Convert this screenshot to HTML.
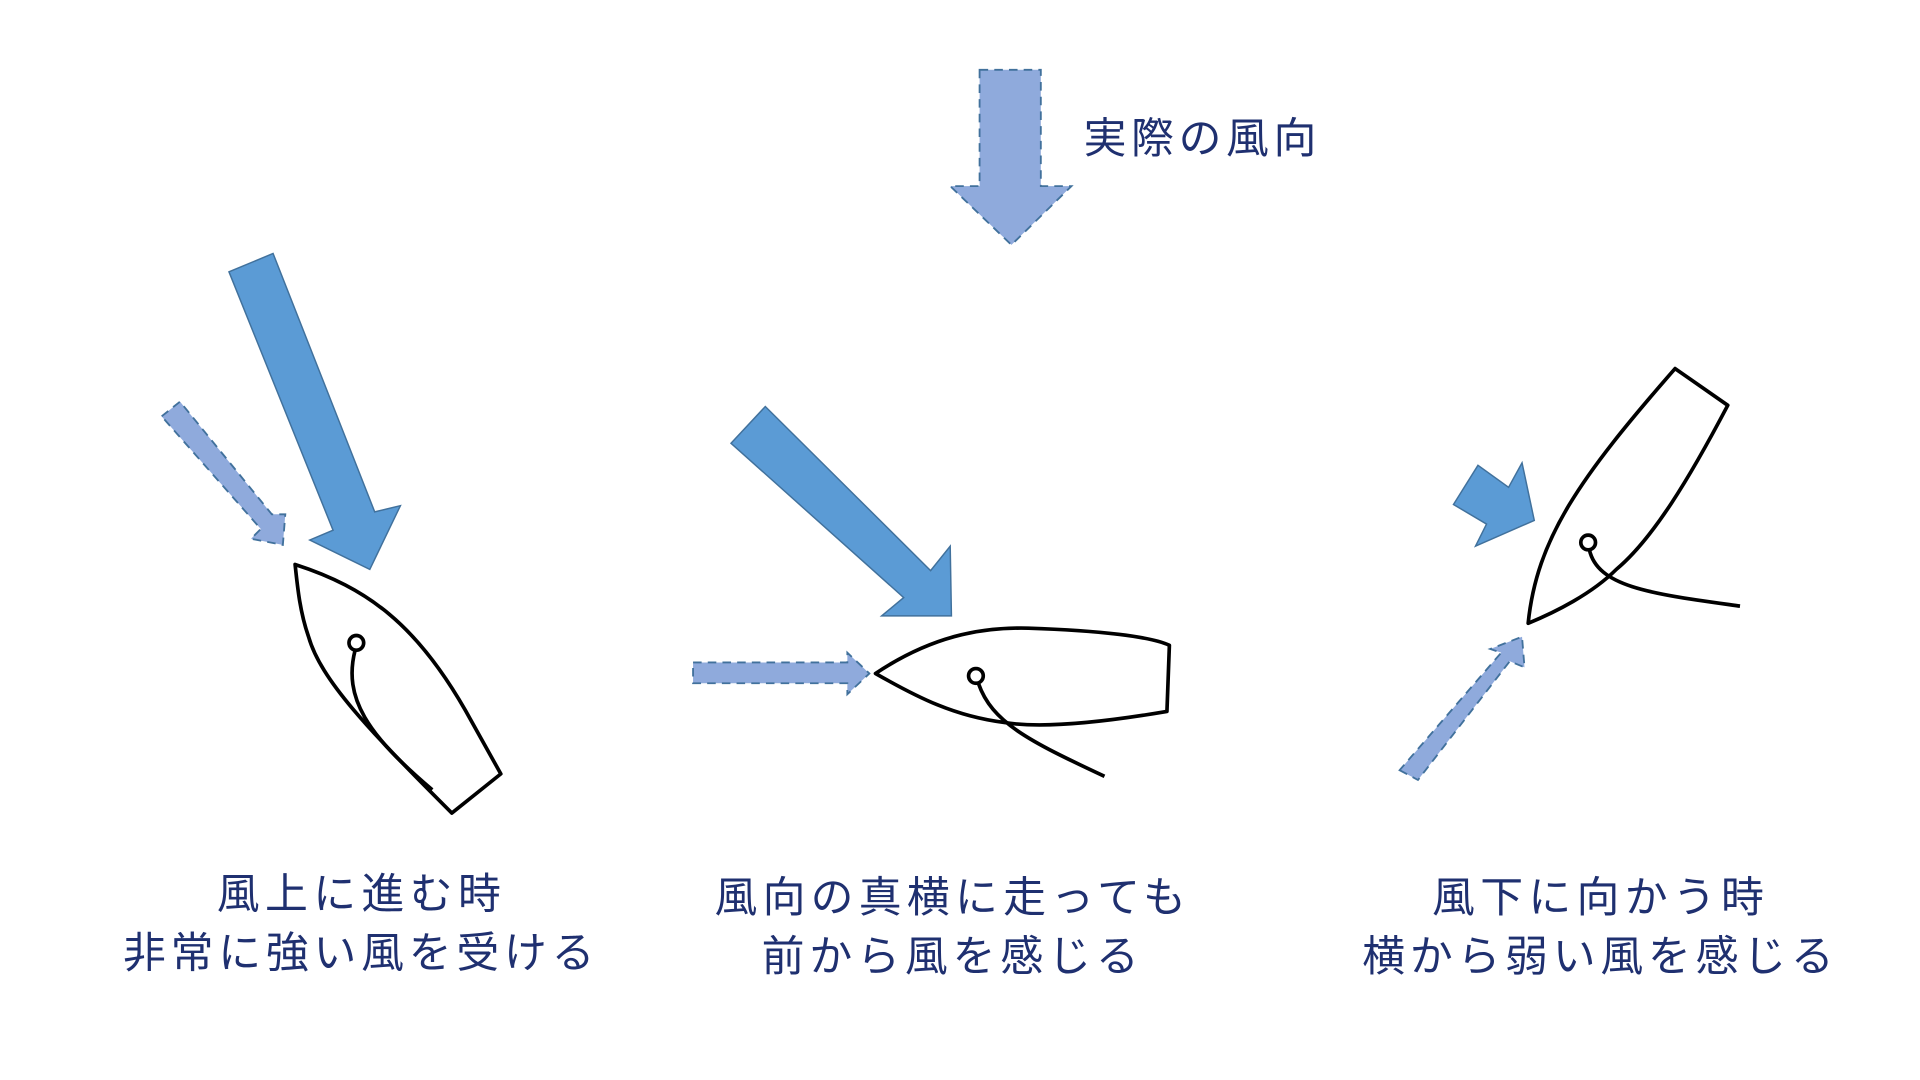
<!DOCTYPE html>
<html><head><meta charset="utf-8"><style>html,body{margin:0;padding:0;background:#fff;width:1920px;height:1080px;overflow:hidden}</style></head>
<body>
<svg width="1920" height="1080" viewBox="0 0 1568 882" preserveAspectRatio="none" xmlns="http://www.w3.org/2000/svg">
<g fill="#5b9bd5" stroke="#41719c" stroke-width="1.2">
<polygon points="187,222 223,207 306,418 327,413 302,465 253,441 272,433"/>
<polygon points="597,362 625,332 760,466 776,446 777,503 720,503 738,488"/>
<polygon points="1187,412 1207,380 1232,398 1243,378 1253,425 1205,446 1214,428"/>
</g>
<g fill="#8faadc" stroke="#41719c" stroke-width="1.5" stroke-dasharray="7,5">
<polygon points="132,340 147,328 222,420 233,420 231,445 205,440 213,432"/>
<polygon points="566,541 692,541 692,533 710,550 692,567 692,558 566,558"/>
<polygon points="800,57 850,57 850,152 875,152 826,200 776,152 800,152"/>
<polygon points="1143,629 1158,637 1233,540 1245,545 1243,520 1217,530 1226,533"/>
</g>
<g fill="none" stroke="#000" stroke-width="3" stroke-linejoin="round">
<path d="M241,461 C300,480 340,510 380,580 L409,632 L369,664 C300,595 262,555 252,520 C245,500 243,480 241,461Z"/>
<circle cx="291" cy="525" r="6"/>
<path d="M290,531 C280,570 300,600 353,645"/>
<path d="M715,550 C760,520 800,512 840,513 C900,515 940,520 955,527 L953,581 C900,590 850,595 820,590 C780,585 750,570 715,550Z"/>
<circle cx="797" cy="552" r="6"/>
<path d="M799,558 C810,590 840,605 902,634"/>
<path d="M1248,509 C1255,440 1290,390 1368,301 L1411,331 C1380,390 1350,440 1320,465 C1300,485 1270,500 1248,509Z"/>
<circle cx="1297" cy="443" r="6"/>
<path d="M1298,449 C1305,480 1350,485 1421,495"/>
</g>
<g fill="#1f3070" font-family="Liberation Sans, 'Noto Sans CJK JP', sans-serif" font-size="35" font-weight="400" text-anchor="middle">
<text x="885" y="125" text-anchor="start" textLength="190">実際の風向</text>
<text x="293" y="742" textLength="232">風上に進む時</text>
<text x="293" y="790" textLength="385">非常に強い風を受ける</text>
<text x="776" y="745" textLength="385">風向の真横に走っても</text>
<text x="776" y="793" textLength="308">前から風を感じる</text>
<text x="1305" y="745" textLength="271">風下に向かう時</text>
<text x="1305" y="793" textLength="385">横から弱い風を感じる</text>
</g>
</svg>
</body></html>
